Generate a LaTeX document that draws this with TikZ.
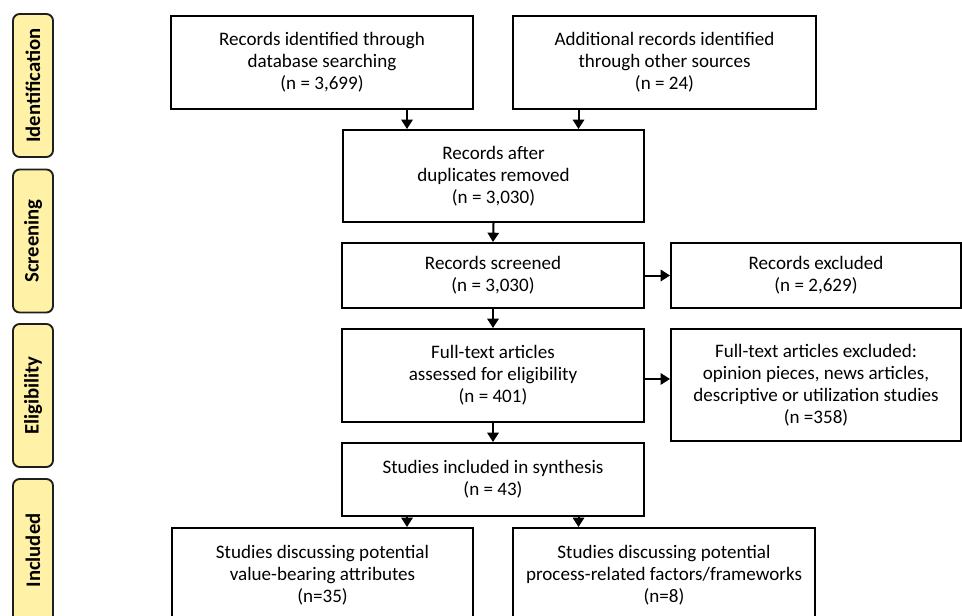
\documentclass[tikz,border=0pt]{standalone}
\usepackage{fontspec}
\setmainfont{Carlito}
\usetikzlibrary{arrows.meta,calc}
\definecolor{labelfill}{HTML}{FFF2A6}
\definecolor{labeldraw}{HTML}{1E1E1E}
\tikzset{
  box/.style={draw=black, line width=1.5pt, fill=white, align=center, inner sep=0pt,
    font=\fontsize{14.3}{16.5}\selectfont},
  phase/.style={draw=labeldraw, line width=1.4pt, fill=labelfill, rounded corners=5pt,
    minimum width=30pt, minimum height=107.25pt, inner sep=0pt},
  phasetext/.style={rotate=90, font=\fontsize{15.5}{17}\selectfont\bfseries},
  arr/.style={line width=1.5pt, -{Triangle[width=8.5pt,length=7pt]}}
}
\begin{document}
\begin{tikzpicture}[x=0.75pt, y=-0.75pt]
\useasboundingbox (0,0) rectangle (962,615);
\clip (0,0) rectangle (962,615);
\fill[white] (0,0) rectangle (962,615);

% phase labels
\node[phase] (p1) at (33,85.5) {};
\node[phasetext] (t1) at (p1) {Identification};
\node[phase] (p2) at (33,241) {};
\node[phasetext] (t2) at (p2) {Screening};
\node[phase] (p3) at (33,395.5) {};
\node[phasetext] (t3) at (p3) {Eligibility};
\node[phase] (p4) at (33,550.5) {};
\node[phasetext] (t4) at (p4) {Included};

% boxes
\node[box, minimum width=226.5pt, minimum height=69.75pt] (b1) at (322,62.5)
  {Records identified through\\database searching\\(n = 3,699)};
\node[box, minimum width=227.25pt, minimum height=69.75pt] (b2) at (664.5,62.5)
  {Additional records identified\\through other sources\\(n = 24)};
\node[box, minimum width=225.75pt, minimum height=69pt] (b3) at (493.5,176)
  {Records after\\duplicates removed\\(n = 3,030)};
\node[box, minimum width=226.5pt, minimum height=48.75pt] (b4) at (493,275.5)
  {Records screened\\(n = 3,030)};
\node[box, minimum width=217.5pt, minimum height=48.75pt] (b5) at (816,275.5)
  {Records excluded\\(n = 2,629)};
\node[box, minimum width=226.5pt, minimum height=69.75pt] (b6) at (493,375.5)
  {Full-text articles\\assessed for eligibility\\(n = 401)};
\node[box, minimum width=217.5pt, minimum height=84pt] (b7) at (816,385)
  {Full-text articles excluded:\\opinion pieces, news articles,\\descriptive or utilization studies\\(n =358)};
\node[box, minimum width=226.5pt, minimum height=54.75pt] (b8) at (493,479.5)
  {Studies included in synthesis\\(n = 43)};
\node[box, minimum width=225.75pt, minimum height=70.5pt] (b9) at (322.5,575)
  {Studies discussing potential\\value-bearing attributes\\(n=35)};
\node[box, minimum width=226.5pt, minimum height=70.5pt] (b10) at (664,575)
  {Studies discussing potential\\process-related factors/frameworks\\(n=8)};

% arrow columns
\coordinate (xa) at (407,0);
\coordinate (xb) at (578.5,0);

% connectors
\draw[arr] (b1.south -| xa) -- (b3.north -| xa);
\draw[arr] (b2.south -| xb) -- (b3.north -| xb);
\draw[arr] (b3.south) -- (b4.north);
\draw[arr] (b4.east) -- (b5.west);
\draw[arr] (b4.south) -- (b6.north);
\draw[arr] ([yshift=-2.6pt]b6.east) -- ([yshift=-2.6pt]b6.east -| b7.west);
\draw[arr] (b6.south) -- (b8.north);
\draw[arr] (b8.south -| xa) -- (b9.north -| xa);
\draw[arr] (b8.south -| xb) -- (b10.north -| xb);
\end{tikzpicture}
\end{document}
